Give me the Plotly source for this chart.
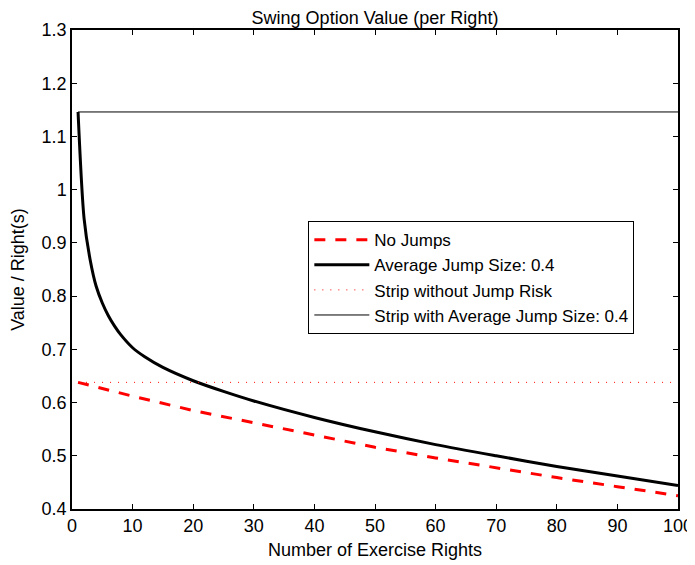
import plotly.graph_objects as go

# Data
n_rights = [1, 2, 3, 4, 5, 6, 7, 8, 10, 12, 15, 20, 25, 30, 40, 50, 60, 70, 80, 90, 100]
avg_jump = [1.146, 0.945, 0.868, 0.818, 0.787, 0.763, 0.744, 0.728, 0.703, 0.686, 0.666,
            0.641, 0.621, 0.603, 0.572, 0.545, 0.521, 0.500, 0.480, 0.462, 0.444]

n_nojump = [1, 10, 20, 30, 40, 50, 60, 70, 80, 90, 100]
no_jumps = [0.638, 0.612, 0.585, 0.562, 0.538, 0.516, 0.496, 0.477, 0.459, 0.442, 0.425]

strip_x = [1, 100]
strip_no_jump = [0.638, 0.638]
strip_jump = [1.146, 1.146]

x_ticks = [0, 10, 20, 30, 40, 50, 60, 70, 80, 90, 100]
y_ticks = [0.4, 0.5, 0.6, 0.7, 0.8, 0.9, 1.0, 1.1, 1.2, 1.3]
y_ticktext = ["0.4", "0.5", "0.6", "0.7", "0.8", "0.9", "1", "1.1", "1.2", "1.3"]

FONT = "Liberation Sans, Arial, Helvetica, sans-serif"

fig = go.Figure()
fig.add_trace(go.Scatter(x=n_nojump, y=no_jumps, mode="lines", name="No Jumps",
                         line=dict(color="#ff0000", width=3, dash="11px,10px")))
fig.add_trace(go.Scatter(x=n_rights, y=avg_jump, mode="lines", name="Average Jump Size: 0.4",
                         line=dict(color="black", width=3, shape="spline", smoothing=0.8)))
fig.add_trace(go.Scatter(x=strip_x, y=strip_no_jump, mode="lines", name="Strip without Jump Risk",
                         line=dict(color="#ff0000", width=1, dash="1px,7px")))
fig.add_trace(go.Scatter(x=strip_x, y=strip_jump, mode="lines", name="Strip with Average Jump Size: 0.4",
                         line=dict(color="black", width=1)))

axis_common = dict(showline=True, linecolor="black", linewidth=1.5, mirror="allticks",
                   ticks="inside", ticklen=5, tickcolor="black", showgrid=False,
                   zeroline=False, automargin=False,
                   tickfont=dict(family=FONT, size=18, color="black"))

# The page body adds an 8px offset, so the figure is 8px smaller than the window.
fig.update_layout(
    width=687, height=557,
    margin=dict(l=64, r=17, t=22, b=56, autoexpand=False),
    paper_bgcolor="white", plot_bgcolor="white",
    font=dict(family=FONT, size=18, color="black"),
    title=dict(text="Swing Option Value (per Right)", xref="paper", x=0.5, xanchor="center",
               y=0.983, yanchor="middle", automargin=False,
               font=dict(family=FONT, size=18, color="black")),
    xaxis=dict(range=[0, 100], tickvals=x_ticks,
               title=dict(text="Number of Exercise Rights", standoff=8,
                          font=dict(family=FONT, size=18, color="black")),
               **axis_common),
    yaxis=dict(range=[0.4, 1.3], tickvals=y_ticks, ticktext=y_ticktext,
               title=dict(text="Value / Right(s)", standoff=13,
                          font=dict(family=FONT, size=18, color="black")),
               **axis_common),
    showlegend=True,
    legend=dict(x=0.39, y=0.601, xanchor="left", yanchor="top",
                bgcolor="white", bordercolor="black", borderwidth=1,
                font=dict(family=FONT, size=17, color="black"),
                itemwidth=55, tracegroupgap=0),
)

fig.write_html("out.html")
